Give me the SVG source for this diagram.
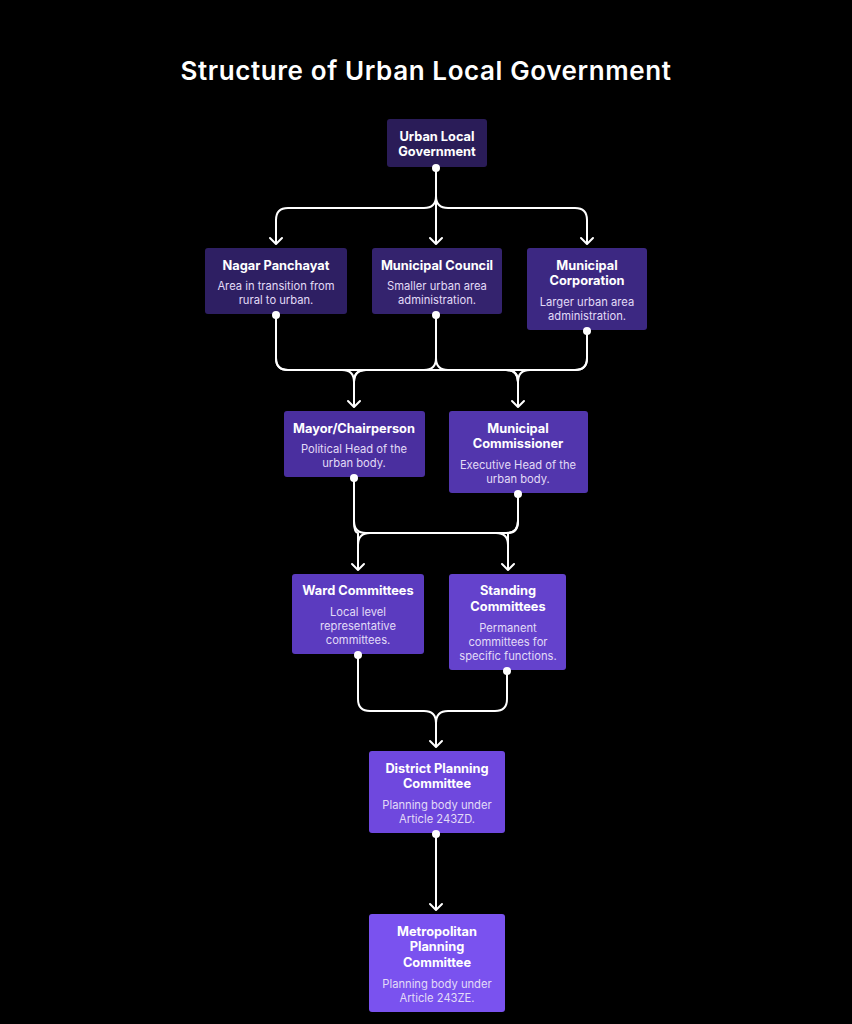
<svg xmlns="http://www.w3.org/2000/svg" width="852" height="1024" viewBox="0 0 852 1024">
<defs>
<style>
.t{font-family:Inter,"Liberation Sans",sans-serif;font-weight:700;font-size:12.8px;fill:#ffffff;text-anchor:middle}
.d{font-family:Inter,"Liberation Sans",sans-serif;font-weight:400;font-size:11.2px;fill:#e2dbf7;text-anchor:middle}
.c{fill:none;stroke:#ffffff;stroke-width:2;stroke-linejoin:round}
.dot{fill:#ffffff}
</style>
</defs>
<rect width="852" height="1024" fill="#000000"/>
<text x="426" y="80" font-family="Inter,'Liberation Sans',sans-serif" font-weight="600" font-size="26" letter-spacing="0.6" fill="#ffffff" text-anchor="middle">Structure of Urban Local Government</text>

<g id="connectors">
<path class="c" d="M436,168 V244"/>
<path class="c" d="M436,168 V196 Q436,208 424,208 H288 Q276,208 276,220 V244"/>
<path class="c" d="M436,168 V196 Q436,208 448,208 H575 Q587,208 587,220 V244"/>
<path class="c" d="M276,315 V358 Q276,370 288,370 H342 Q354,370 354,382 V407"/>
<path class="c" d="M276,315 V358 Q276,370 288,370 H506 Q518,370 518,382 V407"/>
<path class="c" d="M436,315 V358 Q436,370 424,370 H366 Q354,370 354,382 V407"/>
<path class="c" d="M436,315 V358 Q436,370 448,370 H506 Q518,370 518,382 V407"/>
<path class="c" d="M587,331 V358 Q587,370 575,370 H366 Q354,370 354,382 V407"/>
<path class="c" d="M587,331 V358 Q587,370 575,370 H530 Q518,370 518,382 V407"/>
<path class="c" d="M354,478 V521 Q354,533 358,533 Q358,533 358,545 V570"/>
<path class="c" d="M354,478 V521 Q354,533 366,533 H496 Q508,533 508,545 V570"/>
<path class="c" d="M518,494 V521 Q518,533 506,533 H370 Q358,533 358,545 V570"/>
<path class="c" d="M518,494 V521 Q518,533 508,533 Q508,533 508,545 V570"/>
<path class="c" d="M358,655 V699 Q358,711 370,711 H424 Q436,711 436,723 V747"/>
<path class="c" d="M507,671 V699 Q507,711 495,711 H448 Q436,711 436,723 V747"/>
<path class="c" d="M436,834 V910"/>
<g fill="none" stroke="#ffffff" stroke-width="2" stroke-linecap="round" stroke-linejoin="round">
<path d="M430,238 L436,244 L442,238"/>
<path d="M270,238 L276,244 L282,238"/>
<path d="M581,238 L587,244 L593,238"/>
<path d="M348,401 L354,407 L360,401"/>
<path d="M512,401 L518,407 L524,401"/>
<path d="M352,564 L358,570 L364,564"/>
<path d="M502,564 L508,570 L514,564"/>
<path d="M430,741 L436,747 L442,741"/>
<path d="M430,904 L436,910 L442,904"/>
</g>
</g>

<g id="n-root">
<rect x="387" y="119" width="100" height="48" rx="3" fill="#2a1c58"/>
<text class="t" x="437" y="141">Urban Local</text>
<text class="t" x="437" y="156">Government</text>
</g>
<g id="n-nagar">
<rect x="205" y="248" width="142" height="66" rx="3" fill="#2e1f63"/>
<text class="t" x="276" y="270">Nagar Panchayat</text>
<text class="d" x="276" y="290">Area in transition from</text>
<text class="d" x="276" y="304">rural to urban.</text>
</g>
<g id="n-council">
<rect x="372" y="248" width="130" height="66" rx="3" fill="#34236e"/>
<text class="t" x="437" y="270">Municipal Council</text>
<text class="d" x="437" y="290">Smaller urban area</text>
<text class="d" x="437" y="304">administration.</text>
</g>
<g id="n-corp">
<rect x="527" y="248" width="120" height="82" rx="3" fill="#3c2882"/>
<text class="t" x="587" y="270">Municipal</text>
<text class="t" x="587" y="285">Corporation</text>
<text class="d" x="587" y="306">Larger urban area</text>
<text class="d" x="587" y="320">administration.</text>
</g>
<g id="n-mayor">
<rect x="284" y="411" width="141" height="66" rx="3" fill="#4a2f9f"/>
<text class="t" x="354" y="433">Mayor/Chairperson</text>
<text class="d" x="354" y="453">Political Head of the</text>
<text class="d" x="354" y="467">urban body.</text>
</g>
<g id="n-commissioner">
<rect x="449" y="411" width="139" height="82" rx="3" fill="#5236ad"/>
<text class="t" x="518" y="433">Municipal</text>
<text class="t" x="518" y="448">Commissioner</text>
<text class="d" x="518" y="469">Executive Head of the</text>
<text class="d" x="518" y="483">urban body.</text>
</g>
<g id="n-ward">
<rect x="292" y="574" width="132" height="80" rx="3" fill="#5b3bbf"/>
<text class="t" x="358" y="595">Ward Committees</text>
<text class="d" x="358" y="616">Local level</text>
<text class="d" x="358" y="630">representative</text>
<text class="d" x="358" y="644">committees.</text>
</g>
<g id="n-standing">
<rect x="449" y="574" width="117" height="96" rx="3" fill="#6442cc"/>
<text class="t" x="508" y="595">Standing</text>
<text class="t" x="508" y="611">Committees</text>
<text class="d" x="508" y="632">Permanent</text>
<text class="d" x="508" y="646">committees for</text>
<text class="d" x="508" y="660">specific functions.</text>
</g>
<g id="n-district">
<rect x="369" y="751" width="136" height="82" rx="3" fill="#6f48de"/>
<text class="t" x="437" y="773">District Planning</text>
<text class="t" x="437" y="788">Committee</text>
<text class="d" x="437" y="809">Planning body under</text>
<text class="d" x="437" y="823">Article 243ZD.</text>
</g>
<g id="n-metro">
<rect x="369" y="914" width="136" height="98" rx="3" fill="#7a52ef"/>
<text class="t" x="437" y="936">Metropolitan</text>
<text class="t" x="437" y="951">Planning</text>
<text class="t" x="437" y="967">Committee</text>
<text class="d" x="437" y="988">Planning body under</text>
<text class="d" x="437" y="1002">Article 243ZE.</text>
</g>

<g id="dots">
<circle class="dot" cx="436" cy="168" r="4"/>
<circle class="dot" cx="276" cy="315" r="4"/>
<circle class="dot" cx="436" cy="315" r="4"/>
<circle class="dot" cx="587" cy="331" r="4"/>
<circle class="dot" cx="354" cy="478" r="4"/>
<circle class="dot" cx="518" cy="494" r="4"/>
<circle class="dot" cx="358" cy="655" r="4"/>
<circle class="dot" cx="507" cy="671" r="4"/>
<circle class="dot" cx="436" cy="834" r="4"/>
</g>
</svg>
